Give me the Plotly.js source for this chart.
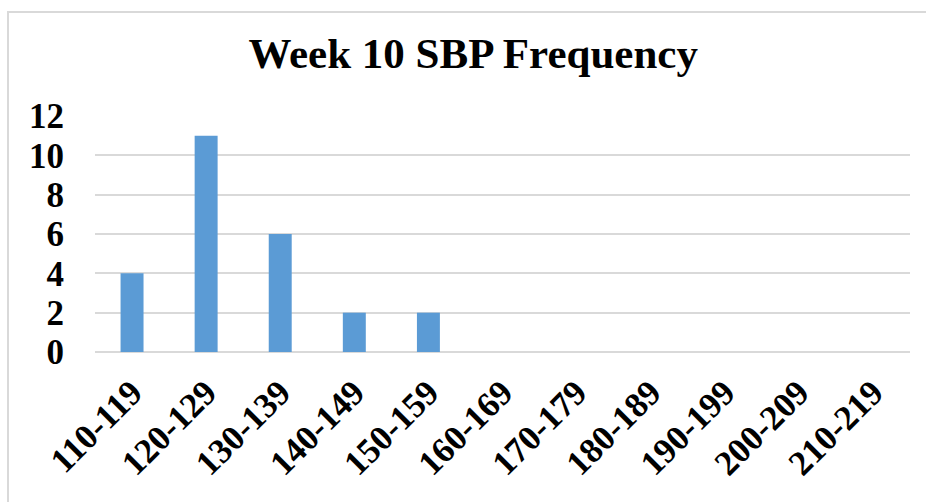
<!DOCTYPE html>
<html>
<head>
<meta charset="utf-8">
<script src="https://cdn.plot.ly/plotly-3.0.1.min.js"></script>
<style>
html,body{margin:0;padding:0;background:#fff;}
#wrap{position:relative;width:926px;height:502px;overflow:hidden;}
#chart{position:absolute;left:0;top:0;width:926px;height:502px;}
#frame{position:absolute;left:7px;top:11px;width:940px;height:520px;border:2px solid #d9d9d9;pointer-events:none;}
</style>
</head>
<body>
<div id="wrap"><div id="chart"></div><div id="frame"></div></div>
<script>
const categories = ["110-119","120-129","130-139","140-149","150-159","160-169","170-179","180-189","190-199","200-209","210-219"];
const frequency = [4, 11, 6, 2, 2, 0, 0, 0, 0, 0, 0];
const yTicks = [0, 2, 4, 6, 8, 10, 12];

const font = {family: "Liberation Serif, Times New Roman, serif", color: "#000"};

Plotly.newPlot("chart", [{
  type: "bar",
  x: categories,
  y: frequency,
  marker: {color: "#5b9bd5"},
  hoverinfo: "x+y"
}], {
  width: 926, height: 502,
  margin: {l: 95, r: 16, t: 116, b: 150},
  paper_bgcolor: "#fff", plot_bgcolor: "#fff",
  bargap: 0.69,
  showlegend: false,
  title: {text: "<b>Week 10 SBP Frequency</b>", font: Object.assign({size: 43}, font), x: 0.511, xanchor: "center", xref: "container", y: 0.895, yref: "container", yanchor: "middle"},
  xaxis: {
    type: "category",
    tickangle: -45,
    tickfont: Object.assign({size: 35, weight: "bold"}, font),
    showgrid: false, zeroline: false,
    showline: false, ticks: "",
    ticklabelstandoff: 12
  },
  yaxis: {
    range: [0, 12],
    tickvals: yTicks,
    tickfont: Object.assign({size: 35, weight: "bold"}, font),
    showgrid: true, gridcolor: "#d9d9d9", gridwidth: 1.5,
    zeroline: true, zerolinecolor: "#d9d9d9", zerolinewidth: 1.5,
    showline: false, ticks: "",
    ticklabelstandoff: 30
  }
}, {displayModeBar: false});
</script>
</body>
</html>
